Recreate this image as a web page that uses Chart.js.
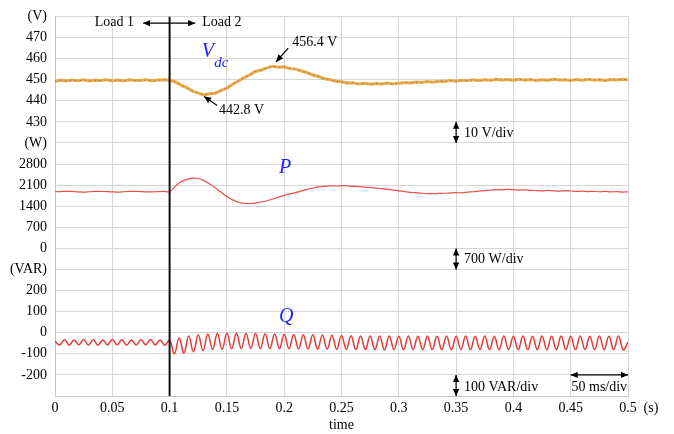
<!DOCTYPE html>
<html>
<head>
<meta charset="utf-8">
<script src="https://cdn.jsdelivr.net/npm/chart.js@4.4.0/dist/chart.umd.min.js"></script>
<style>
  html, body { margin: 0; padding: 0; background: #fff; }
  canvas { display: block; }
</style>
</head>
<body>
<canvas id="chart" width="674" height="434"></canvas>
<script>
// -------------------------------
// Sampled traces
// -------------------------------
const vdcStep = 0.005;     // s
const pStep = 0.005;       // s
const qStep = 1 / 240;     // s, one sample per ripple peak / trough
const loadStepTime = 0.1;  // s

// DC-link voltage (V)
const vdcValues = [
  449.3, 449.7, 449.4, 449.8, 449.5, 449.9, 449.4, 449.7, 449.6, 450.0,
  449.5, 449.8, 449.4, 449.9, 449.6, 449.7, 449.9, 449.5, 449.8, 450.0,
  449.8, 448.9, 447.4, 446.2, 444.6, 443.6, 442.8, 443.3, 443.6, 444.9,
  446.0, 447.8, 449.4, 451.0, 452.3, 453.9, 454.6, 455.6, 456.4, 455.9,
  456.1, 455.3, 455.0, 454.1, 453.3, 452.2, 451.5, 450.4, 450.0, 449.2,
  449.0, 448.4, 448.5, 447.9, 448.3, 447.8, 448.2, 447.9, 448.4, 448.0,
  448.3, 448.6, 448.4, 448.9, 448.7, 449.1, 448.8, 449.3, 449.1, 449.6,
  449.3, 449.7, 449.5, 449.9, 449.6, 450.0, 449.7, 450.2, 449.8, 450.1,
  449.7, 450.2, 449.8, 450.1, 449.6, 450.0, 449.7, 450.2, 449.8, 450.0,
  449.6, 450.1, 449.7, 450.2, 449.8, 450.0, 449.6, 450.1, 449.8, 450.2,
  449.9
];

// active power (W)
const pValues = [
  1880, 1885, 1895, 1890, 1875, 1870, 1880, 1890, 1895, 1885,
  1875, 1870, 1880, 1890, 1895, 1885, 1875, 1875, 1885, 1890,
  1880, 2060, 2210, 2290, 2330, 2320, 2250, 2140, 2000, 1860,
  1720, 1610, 1530, 1495, 1490, 1505, 1540, 1580, 1640, 1700,
  1760, 1810, 1850, 1910, 1960, 2000, 2040, 2055, 2080, 2070,
  2085, 2075, 2060, 2050, 2030, 2020, 2000, 1985, 1960, 1935,
  1910, 1885, 1860, 1850, 1830, 1820, 1815, 1825, 1830, 1840,
  1850, 1845, 1870, 1880, 1900, 1920, 1930, 1950, 1940, 1960,
  1950, 1935, 1945, 1925, 1920, 1910, 1925, 1910, 1900, 1915,
  1905, 1890, 1900, 1885, 1895, 1880, 1890, 1875, 1885, 1870,
  1875
];

// reactive power (VAR), alternating crest / trough of the ripple
const qValues = [
  -40, -58, -33, -59, -34, -57, -32, -58, -33, -59,
  -34, -58, -32, -57, -33, -59, -34, -58, -33, -57,
  -32, -58, -34, -59, -36, -100, -25, -97, -15, -90,
  -9, -85, -6, -80, -4, -78, -3, -76, -3, -75,
  -4, -74, -4, -75, -5, -75, -6, -76, -7, -76,
  -8, -77, -9, -77, -10, -78, -11, -78, -12, -79,
  -13, -79, -14, -80, -15, -80, -15, -80, -16, -81,
  -16, -80, -17, -81, -16, -80, -17, -81, -16, -80,
  -17, -80, -16, -81, -17, -80, -16, -81, -17, -80,
  -16, -80, -17, -81, -16, -80, -17, -81, -16, -80,
  -17, -80, -16, -81, -17, -80, -16, -80, -17, -81,
  -16, -80, -17, -81, -16, -80, -17, -80, -16, -81,
  -45
];

// one label per grid row, bottom to top
const rowLabels = [
  '', '-200', '-100', '0', '100', '200', '(VAR)',
  '0', '700', '1400', '2100', '2800', '(W)',
  '430', '440', '450', '460', '470', '(V)'
];

// -------------------------------
// Map each quantity into its band of the shared grid
// -------------------------------
const vdcRow = v => 15 + (v - 450) / 10;
const pRow = p => 10 + (p - 2100) / 700;
const qRow = q => 3 + q / 100;

function toPoints(values, step, rowOf) {
  return values.map((v, i) => ({ x: i * step, y: rowOf(v) }));
}

const serif = "'Liberation Serif', 'Times New Roman', serif";
Chart.defaults.font.family = serif;
Chart.defaults.font.size = 14;
Chart.defaults.color = '#000';

// -------------------------------
// Arrows and text on top of the plot
// -------------------------------
function arrowHead(ctx, x1, y1, x2, y2) {
  const a = Math.atan2(y2 - y1, x2 - x1);
  const len = 7, half = 3.2;
  ctx.beginPath();
  ctx.moveTo(x2, y2);
  ctx.lineTo(x2 - len * Math.cos(a) + half * Math.sin(a), y2 - len * Math.sin(a) - half * Math.cos(a));
  ctx.lineTo(x2 - len * Math.cos(a) - half * Math.sin(a), y2 - len * Math.sin(a) + half * Math.cos(a));
  ctx.closePath();
  ctx.fill();
}

function arrow(ctx, x1, y1, x2, y2, both) {
  ctx.beginPath();
  ctx.moveTo(x1, y1);
  ctx.lineTo(x2, y2);
  ctx.stroke();
  arrowHead(ctx, x1, y1, x2, y2);
  if (both) arrowHead(ctx, x2, y2, x1, y1);
}

const notes = {
  id: 'notes',
  afterDatasetsDraw(chart) {
    const { ctx, scales, chartArea } = chart;
    const px = t => scales.x.getPixelForValue(t);
    const py = r => scales.y.getPixelForValue(r);

    ctx.save();
    ctx.fillStyle = '#000';
    ctx.strokeStyle = '#000';
    ctx.lineWidth = 1.2;
    ctx.textBaseline = 'middle';
    ctx.font = '14px ' + serif;

    // load change marker
    ctx.textAlign = 'right';
    ctx.fillText('Load 1', px(0.069), py(17.72));
    ctx.textAlign = 'left';
    ctx.fillText('Load 2', px(0.1284), py(17.72));
    arrow(ctx, px(0.1223), py(17.68), px(0.0769), py(17.68), true);

    // Vdc extremes
    ctx.fillText('456.4 V', px(0.207), py(16.78));
    arrow(ctx, px(0.2035), py(16.5), px(0.193), py(15.85), false);
    ctx.fillText('442.8 V', px(0.1432), py(13.55));
    arrow(ctx, px(0.1415), py(13.78), px(0.1301), py(14.2), false);

    // scale markers
    arrow(ctx, px(0.35), py(13), px(0.35), py(12), true);
    ctx.fillText('10 V/div', px(0.357), py(12.47));
    arrow(ctx, px(0.35), py(7), px(0.35), py(6), true);
    ctx.fillText('700 W/div', px(0.357), py(6.47));
    arrow(ctx, px(0.35), py(1), px(0.35), py(0), true);
    ctx.fillText('100 VAR/div', px(0.357), py(0.42));
    arrow(ctx, px(0.45), py(1), px(0.5), py(1), true);
    ctx.fillText('50 ms/div', px(0.4507), py(0.42));

    // axis unit and title
    ctx.textAlign = 'center';
    ctx.fillText('(s)', chartArea.right + 23, py(0) + 12);
    ctx.fillText('time', (chartArea.left + chartArea.right) / 2, py(0) + 29);

    // trace names
    ctx.fillStyle = '#1f1fff';
    ctx.textAlign = 'left';
    ctx.font = 'italic 20px ' + serif;
    ctx.fillText('V', px(0.128), py(16.31));
    ctx.fillText('P', px(0.1955), py(10.83));
    ctx.fillText('Q', px(0.1955), py(3.75));
    ctx.font = 'italic 15px ' + serif;
    ctx.fillText('dc', px(0.139), py(15.8));
    ctx.restore();
  }
};

// -------------------------------
// Build chart
// -------------------------------
const vdcPoints = toPoints(vdcValues, vdcStep, vdcRow);

new Chart(document.getElementById('chart'), {
  type: 'line',
  data: {
    datasets: [
      {
        data: [{ x: loadStepTime, y: 0 }, { x: loadStepTime, y: 18 }],
        borderColor: '#111',
        borderWidth: 2,
        order: 0
      },
      {
        data: vdcPoints,
        borderColor: 'rgba(90,60,20,0.6)',
        borderWidth: 1,
        borderDash: [1, 4],
        order: 1
      },
      {
        data: vdcPoints,
        borderColor: '#e9a94c',
        borderWidth: 3,
        order: 2
      },
      {
        data: toPoints(pValues, pStep, pRow),
        borderColor: '#e8524a',
        borderWidth: 1.2,
        tension: 0.3,
        order: 2
      },
      {
        data: toPoints(qValues, qStep, qRow),
        borderColor: '#e53935',
        borderWidth: 1.5,
        tension: 0.4,
        order: 2
      }
    ]
  },
  options: {
    responsive: false,
    animation: false,
    devicePixelRatio: 1,
    layout: { padding: { top: 12, right: 46, left: 0, bottom: 0 } },
    elements: { point: { radius: 0 } },
    plugins: { legend: { display: false }, tooltip: { enabled: false } },
    scales: {
      x: {
        type: 'linear',
        min: 0,
        max: 0.5,
        ticks: {
          stepSize: 0.05,
          padding: 4,
          maxRotation: 0,
          callback: v => String(+v.toFixed(2))
        },
        grid: { color: '#d6d6d6', drawTicks: false },
        border: { color: '#c4c4c4' },
        afterFit: s => { s.height = 38; }
      },
      y: {
        min: 0,
        max: 18,
        ticks: {
          stepSize: 1,
          padding: 8,
          callback: v => rowLabels[Math.round(v)]
        },
        grid: { color: '#d6d6d6', drawTicks: false },
        border: { color: '#c4c4c4' },
        afterFit: s => { s.width = 55; }
      }
    }
  },
  plugins: [notes]
});
</script>
</body>
</html>
